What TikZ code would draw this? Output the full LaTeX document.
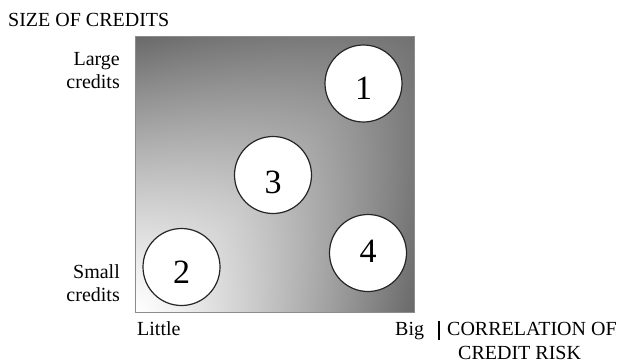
\documentclass[tikz,border=0pt]{standalone}
\usepackage{fontspec}
\setmainfont{Liberation Serif}
\pgfdeclarefunctionalshading{creditshade}{\pgfpoint{0bp}{0bp}}{\pgfpoint{100bp}{100bp}}{}{
 exch 25 sub 2 mul exch 25 sub 2 mul
 2 copy sub abs 100 div 1.5 exp 0.31 mul
 3 1 roll add 200 div 0.56 mul
 1.0 exch sub exch sub
 dup dup
}
\tikzset{
  lbl/.style={font=\fontsize{20pt}{23.3pt}\selectfont, inner sep=0pt},
  numcircle/.style={circle, draw=black!85, line width=1.2pt, fill=white,
    minimum size=77pt, inner sep=0pt, text depth=0pt,
    font=\fontsize{34pt}{38pt}\selectfont},
  frame/.style={draw=black!45, line width=1pt}
}
\begin{document}
\begin{tikzpicture}[x=1pt,y=-1pt]
\useasboundingbox (0,0) rectangle (621,362);
\shade[shading=creditshade] (135,36) rectangle (414,312);
\node[frame, minimum width=279pt, minimum height=276pt, anchor=north west, inner sep=0pt] (sq) at (135,36) {};
\node[numcircle, text height=31pt] (c1) at (363.5,83.5) {1};
\node[numcircle, text height=37pt] (c3) at (273,175) {3};
\node[numcircle, text height=19pt] (c4) at (368,253) {4};
\node[numcircle, text height=32pt] (c2) at (181.5,267) {2};
\node[lbl, anchor=base west] (ytitle) at (8,26) {SIZE OF CREDITS};
\node[lbl, anchor=base east, align=right] (large) at (120,88.3) {Large\\credits};
\node[lbl, anchor=base east, align=right] (small) at (120,301.7) {Small\\credits};
\node[lbl, anchor=base west] (little) at (137,335.5) {Little};
\node[lbl, anchor=base west] (big) at (395,335.5) {Big};
\coordinate (bartop) at (438.5,321);
\coordinate (barbot) at (438.5,340);
\draw[line width=2pt] (bartop) -- (barbot);
\node[lbl, anchor=base west] (xtitle1) at (447,335.5) {CORRELATION OF};
\node[lbl, anchor=base west] (xtitle2) at (458,359) {CREDIT RISK};
\end{tikzpicture}
\end{document}
